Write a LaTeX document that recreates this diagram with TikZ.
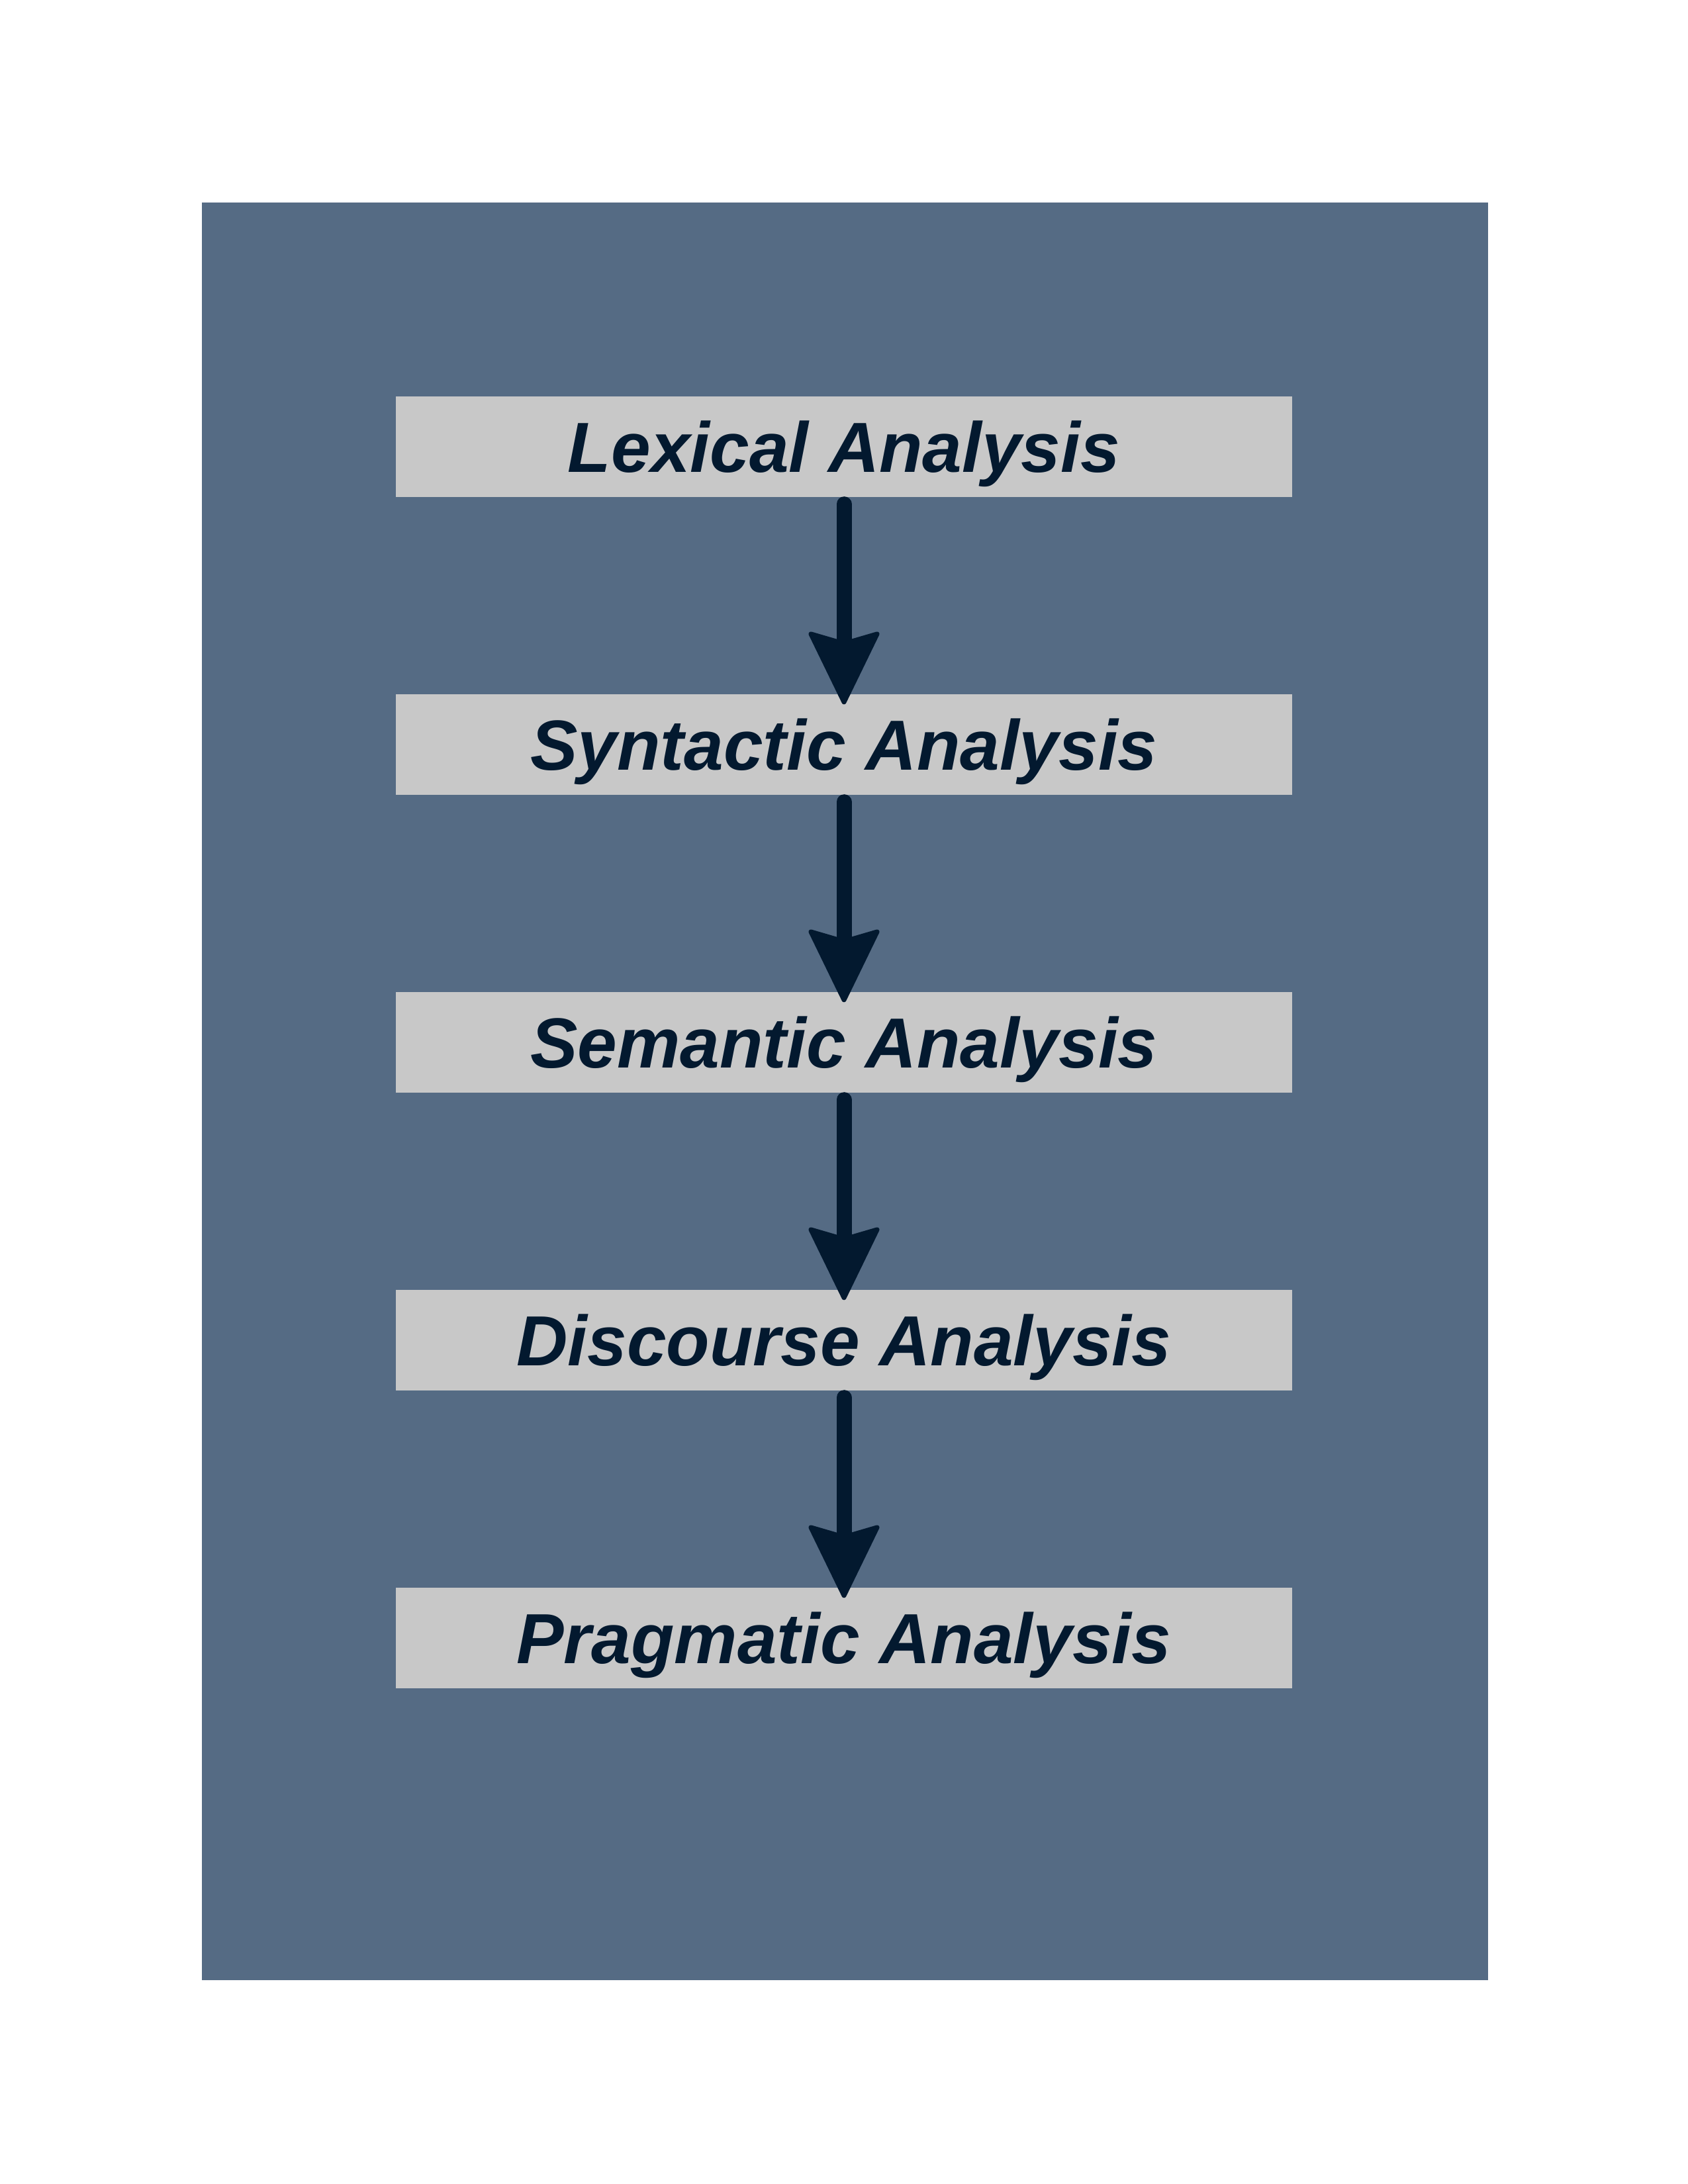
\documentclass[tikz,border=0pt]{standalone}
\usepackage{fontspec}
\setmainfont{Liberation Sans}
\usetikzlibrary{arrows.meta}
\definecolor{panelblue}{RGB}{85,107,132}
\definecolor{boxgrey}{RGB}{200,200,200}
\definecolor{inkblue}{RGB}{3,25,47}

\begin{document}
\begin{tikzpicture}[
greysquarednode/.style={rectangle, fill=boxgrey, minimum width=135.4mm, minimum height=15.2mm, inner sep=0pt, text height=7.6mm, text depth=0pt, text=inkblue, font=\fontsize{30.5}{36}\selectfont\bfseries\itshape},
flow arrow/.style={-{Stealth[length=11.6mm,width=11.2mm,inset=1.6mm,round,line width=2pt]}, line width=2.3mm, line cap=round, draw=inkblue, shorten <=1mm, shorten >=-1.6mm}
]
\useasboundingbox (0,0) rectangle (25.5,-33);
%Panel
\fill[panelblue] (3.05,-3.06) rectangle (22.48,-29.92);

%Nodes
\node[greysquarednode] at (12.75,-6.75)  (LEXICAL)   {Lexical Analysis};
\node[greysquarednode] at (12.75,-11.25) (SYNTACTIC) {Syntactic Analysis};
\node[greysquarednode] at (12.75,-15.75) (SEMANTIC)  {Semantic Analysis};
\node[greysquarednode] at (12.75,-20.25) (DISCOURSE) {Discourse Analysis};
\node[greysquarednode] at (12.75,-24.75) (PRAGMATIC) {Pragmatic Analysis};

%Lines
\draw[flow arrow] (LEXICAL.south) -- (SYNTACTIC.north);
\draw[flow arrow] (SYNTACTIC.south) -- (SEMANTIC.north);
\draw[flow arrow] (SEMANTIC.south) -- (DISCOURSE.north);
\draw[flow arrow] (DISCOURSE.south) -- (PRAGMATIC.north);
\end{tikzpicture}
\end{document}
